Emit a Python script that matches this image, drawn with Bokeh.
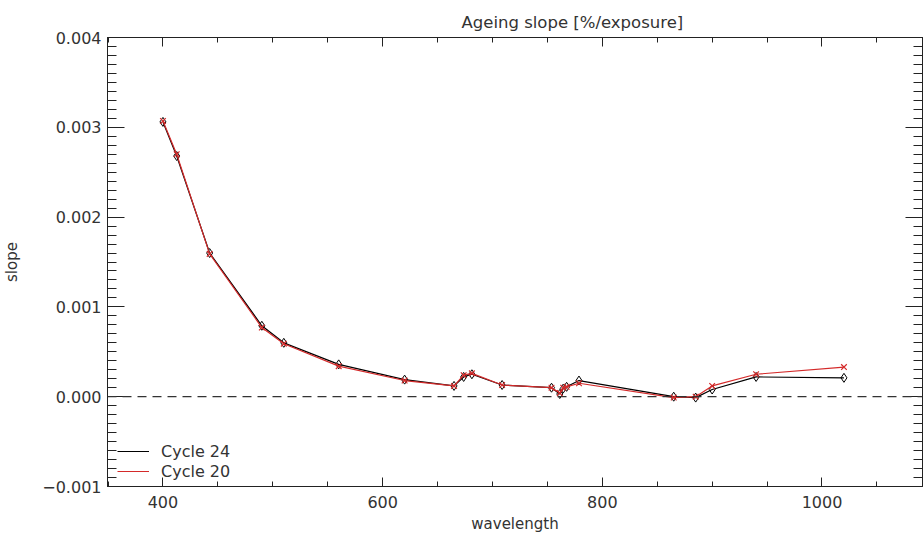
from bokeh.plotting import figure
from bokeh.models import (LinearAxis, Range1d, Span, Legend, LegendItem,
                          SingleIntervalTicker, CustomJSTickFormatter)
from bokeh.embed import file_html
from bokeh.resources import INLINE

# ---- data ----
wavelength = [400, 412.5, 442.5, 490, 510, 560, 620, 665, 673.75, 681.25,
              708.75, 753.75, 761.25, 764.375, 767.5, 778.75, 865, 885,
              900, 940, 1020]
cycle24 = [0.00306, 0.00268, 0.00160, 0.00079, 0.00060, 0.00036, 0.00019,
           0.00012, 0.00022, 0.00025, 0.00013, 0.00010, 0.00003, 0.00009,
           0.00011, 0.00018, 0.00000, -0.00001, 0.00008, 0.00022, 0.00021]
cycle20 = [0.00307, 0.00270, 0.00159, 0.00077, 0.00059, 0.00034, 0.00018,
           0.00012, 0.00024, 0.00026, 0.00013, 0.00010, 0.00004, 0.00010,
           0.00011, 0.00015, -0.00001, 0.00000, 0.00012, 0.00025, 0.00033]
series_names = ["Cycle 24", "Cycle 20"]
title_text = "Ageing slope [%/exposure]"
x_label = "wavelength"
y_label = "slope"

TXT = "#333333"
FONT = "DejaVu Sans"
RED = "#d42a2a"

p = figure(width=923, height=535,
           x_range=Range1d(349.5, 1091.5), y_range=Range1d(-0.001, 0.004),
           output_backend="svg", toolbar_location=None,
           min_border_left=105, min_border_right=1,
           min_border_top=37, min_border_bottom=48)

p.grid.visible = False
p.outline_line_color = "#222222"
p.background_fill_color = "white"
p.border_fill_color = "white"

# title
p.title.text = title_text
p.title.align = "left"
p.title.offset = 354
p.title.standoff = 12
p.title.text_font = FONT
p.title.text_font_size = "16.5px"
p.title.text_font_style = "normal"
p.title.text_color = TXT

xt = SingleIntervalTicker(interval=200, num_minor_ticks=4)
yt = SingleIntervalTicker(interval=0.001, num_minor_ticks=10)
yfmt = CustomJSTickFormatter(code="""
    var s = Math.abs(tick).toFixed(3);
    return (tick < -1e-9 ? "\\u2212" : "") + s;
""")
blank = CustomJSTickFormatter(code="return '';")

def style_axis(ax, tick_major, tick_minor):
    ax.axis_line_color = "#222222"
    ax.major_tick_line_color = "#222222"
    ax.minor_tick_line_color = "#222222"
    ax.major_tick_in = tick_major
    ax.major_tick_out = 0
    ax.minor_tick_in = tick_minor
    ax.minor_tick_out = 0
    ax.major_label_text_font = FONT
    ax.major_label_text_font_size = "16px"
    ax.major_label_text_color = TXT
    ax.axis_label_text_font = FONT
    ax.axis_label_text_font_size = "15px"
    ax.axis_label_text_font_style = "normal"
    ax.axis_label_text_color = TXT

xa = p.xaxis[0]
xa.ticker = xt
style_axis(xa, 9, 5)
xa.axis_label = x_label
xa.major_label_standoff = 9
xa.axis_label_standoff = 4

ya = p.yaxis[0]
ya.ticker = yt
ya.formatter = yfmt
style_axis(ya, 17, 9)
ya.axis_label = y_label
ya.major_label_standoff = 6
ya.axis_label_standoff = 18

top = LinearAxis(ticker=SingleIntervalTicker(interval=200, num_minor_ticks=4),
                 formatter=blank)
style_axis(top, 9, 5)
top.major_label_standoff = 0
p.add_layout(top, "above")

right = LinearAxis(ticker=SingleIntervalTicker(interval=0.001, num_minor_ticks=10),
                   formatter=blank)
style_axis(right, 17, 9)
right.major_label_standoff = 0
p.add_layout(right, "right")

# zero line
p.add_layout(Span(location=0, dimension="width", line_color="#333333",
                  line_dash="9 6", line_width=1.3))

# series
l24 = p.line(wavelength, cycle24, line_color="black", line_width=1.2)
p.scatter(wavelength, cycle24, marker="diamond", size=9, fill_color=None,
          line_color="black", line_width=1)
l20 = p.line(wavelength, cycle20, line_color=RED, line_width=1.2)
p.scatter(wavelength, cycle20, marker="x", size=8, line_color=RED,
          line_width=1.2)

legend = Legend(items=[LegendItem(label=series_names[0], renderers=[l24]),
                       LegendItem(label=series_names[1], renderers=[l20])],
                location=(10, 5), padding=0, spacing=0, margin=0,
                glyph_width=32, glyph_height=20, label_height=20,
                label_standoff=12, border_line_color=None,
                background_fill_alpha=0,
                label_text_font=FONT, label_text_font_size="16px",
                label_text_color=TXT)
p.add_layout(legend, "center")

open("out.html", "w").write(file_html(p, INLINE))
